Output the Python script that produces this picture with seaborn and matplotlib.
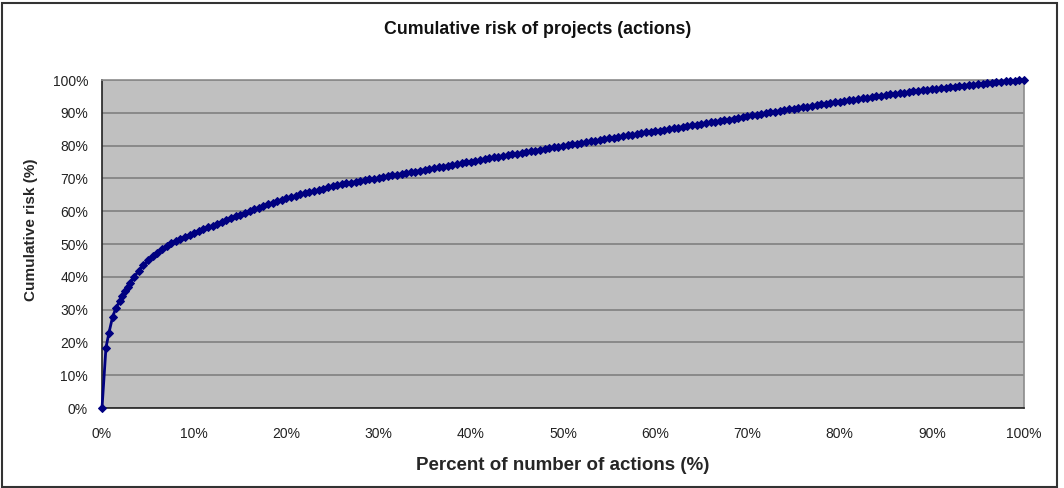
import numpy as np
import pandas as pd
import matplotlib
matplotlib.use("Agg")
import matplotlib.pyplot as plt
import seaborn as sns
from matplotlib.patches import Rectangle
from matplotlib.ticker import MultipleLocator, FuncFormatter

# first points of the curve
x_inicio = [0, 0.43, 0.76, 1.15, 1.5, 1.9, 2.2, 2.5, 2.8]
y_inicio = [0, 18.4, 23.0, 27.8, 30.4, 32.5, 34.2, 35.7, 37.0]

# rest of the curve, read every 0.5% of the number of actions, from 3% to 100%
x_resto = np.arange(3.0, 100.01, 0.5)
y_resto = [
    38.0, 40.0, 41.9, 43.5, 45.0, 46.3, 47.4, 48.5, 49.4, 50.2,
    51.0, 51.6, 52.2, 52.8, 53.4, 54.0, 54.5, 55.1, 55.6, 56.2,
    56.7, 57.3, 57.8, 58.4, 58.9, 59.5, 60.0, 60.6, 61.1, 61.6,
    62.1, 62.6, 63.0, 63.5, 63.9, 64.3, 64.7, 65.1, 65.4, 65.8,
    66.1, 66.5, 66.9, 67.3, 67.6, 67.9, 68.2, 68.5, 68.7, 69.0,
    69.2, 69.5, 69.7, 69.9, 70.1, 70.4, 70.6, 70.9, 71.1, 71.4,
    71.6, 71.9, 72.1, 72.4, 72.6, 72.9, 73.1, 73.4, 73.6, 73.9,
    74.1, 74.4, 74.6, 74.9, 75.1, 75.4, 75.6, 75.9, 76.1, 76.4,
    76.6, 76.9, 77.1, 77.3, 77.5, 77.8, 78.0, 78.3, 78.5, 78.8,
    79.0, 79.3, 79.5, 79.7, 79.9, 80.2, 80.4, 80.6, 80.8, 81.1,
    81.3, 81.5, 81.7, 82.0, 82.2, 82.4, 82.6, 82.9, 83.1, 83.3,
    83.5, 83.8, 84.0, 84.2, 84.4, 84.6, 84.8, 85.1, 85.3, 85.5,
    85.7, 86.0, 86.2, 86.4, 86.6, 86.9, 87.1, 87.3, 87.5, 87.7,
    87.9, 88.2, 88.4, 88.7, 88.9, 89.2, 89.4, 89.6, 89.8, 90.1,
    90.3, 90.6, 90.8, 91.1, 91.3, 91.5, 91.7, 91.9, 92.1, 92.4,
    92.6, 92.8, 93.0, 93.2, 93.4, 93.6, 93.8, 94.0, 94.2, 94.4,
    94.6, 94.8, 95.0, 95.2, 95.4, 95.6, 95.8, 96.0, 96.1, 96.3,
    96.5, 96.7, 96.9, 97.0, 97.2, 97.4, 97.5, 97.7, 97.8, 98.0,
    98.2, 98.3, 98.5, 98.6, 98.8, 98.9, 99.1, 99.2, 99.4, 99.5,
    99.6, 99.7, 99.8, 99.9, 100.0,
]

titulo = "Cumulative risk of projects (actions)"
rotulo_x = "Percent of number of actions (%)"
rotulo_y = "Cumulative risk (%)"

df = pd.DataFrame({
    "acoes": list(x_inicio) + list(x_resto),
    "risco": list(y_inicio) + list(y_resto),
})

sns.set_theme(style="white")
plt.rcParams["font.family"] = ["Liberation Sans", "DejaVu Sans"]

fig = plt.figure(figsize=(10.64, 4.88), dpi=100)
ax = fig.add_axes([102 / 1064, 1 - 408 / 488, 922 / 1064, 328 / 488])
ax.set_facecolor("#c0c0c0")

sns.lineplot(data=df, x="acoes", y="risco", ax=ax, color="#000080",
             linewidth=2.0, marker="D", markersize=4.3,
             markeredgecolor="#000080", markerfacecolor="#000080",
             clip_on=False, zorder=3)

ax.set_xlim(0, 100)
ax.set_ylim(0, 100)
ax.xaxis.set_major_locator(MultipleLocator(10))
ax.yaxis.set_major_locator(MultipleLocator(10))
pct = FuncFormatter(lambda v, p: f"{v:.0f}%")
ax.xaxis.set_major_formatter(pct)
ax.yaxis.set_major_formatter(pct)

ax.grid(axis="y", color="#808080", linewidth=1.2)
ax.grid(axis="x", visible=False)
ax.set_axisbelow(True)

for lado in ["top", "right"]:
    ax.spines[lado].set_color("#8c8c8c")
    ax.spines[lado].set_linewidth(1.2)
for lado in ["left", "bottom"]:
    ax.spines[lado].set_color("#222222")
    ax.spines[lado].set_linewidth(1.2)

ax.tick_params(axis="both", direction="out", length=5, width=1,
               color="#222222", labelsize=10, labelcolor="#222222")
ax.tick_params(axis="x", pad=9)
ax.tick_params(axis="y", pad=5)

ax.set_xlabel(rotulo_x, fontsize=13.5, fontweight="bold", labelpad=11)
ax.set_ylabel(rotulo_y, fontsize=11, fontweight="bold")
ax.yaxis.set_label_coords(-64 / 922, (408 - 230) / 328)
fig.text(538 / 1064, 1 - 29 / 488, titulo, ha="center", va="center",
         fontsize=12.8, fontweight="bold", color="#111111")

# borda do gráfico inteiro
fig.patches.append(Rectangle((1.5 / 1064, 1.5 / 488), 1055 / 1064, 484 / 488,
                             transform=fig.transFigure, fill=False,
                             edgecolor="#333333", linewidth=1.5))

fig.savefig("out.png", dpi=100)
